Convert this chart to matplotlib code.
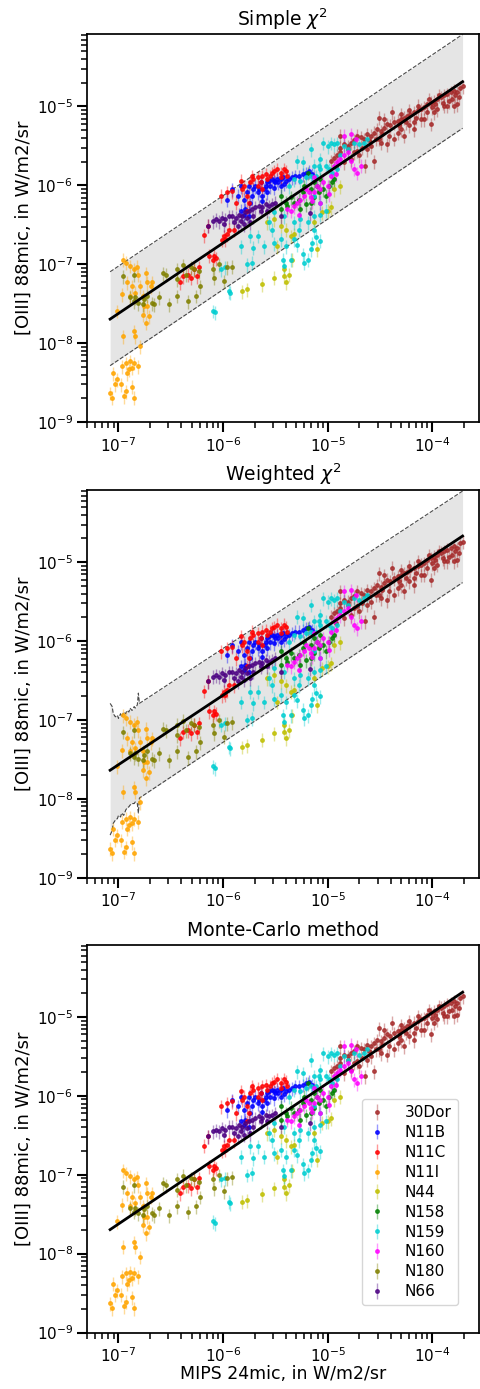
import numpy as np
import matplotlib
matplotlib.use("Agg")
import matplotlib.pyplot as plt

# log10 values (MIPS 24mic, [OIII] 88mic, W/m2/sr)
regions = ["30Dor", "N11B", "N11C", "N11I", "N44", "N158", "N159", "N160", "N180", "N66"]
colors = ["brown", "blue", "red", "orange", "y", "green", "darkturquoise",
          "magenta", "olive", "indigo"]

lx_30dor = [-4.88, -4.84, -4.81, -4.91, -4.88, -4.81, -4.78, -4.75, -4.72, -4.68,
            -4.65, -4.62, -4.59, -4.56, -4.53, -4.49, -4.46, -4.43, -4.40, -4.37,
            -4.33, -4.30, -4.27, -4.24, -4.21, -4.17, -4.14, -4.11, -4.08, -4.05,
            -4.01, -3.98, -3.95, -3.92, -3.89, -3.86, -3.82, -3.79, -3.76, -3.73,
            -3.71, -4.51, -4.46, -4.38, -4.30, -4.22, -4.14, -4.03, -3.94, -3.84,
            -3.76, -4.01, -4.27, -4.17, -4.37, -4.43, -4.56, -4.64, -4.70, -4.62,
            -4.49, -4.22, -4.11, -3.98, -3.89, -3.81, -4.78, -4.72, -4.84, -4.97,
            -4.92, -4.88, -4.51, -4.30, -4.08, -4.05, -3.95, -3.86, -3.79, -3.74,
            -4.17, -4.33, -4.41, -4.59, -4.67, -4.75, -4.94, -4.48, -4.32, -4.16,
            -4.00, -3.90, -3.78, -4.25, -4.54, -4.60, -3.97]
ly_30dor = [-5.37, -5.48, -5.54, -5.62, -5.58, -5.50, -5.46, -5.43, -5.37, -5.39,
            -5.41, -5.35, -5.37, -5.33, -5.29, -5.31, -5.27, -5.22, -5.24, -5.20,
            -5.18, -5.16, -5.14, -5.12, -5.10, -5.07, -5.05, -5.03, -5.01, -4.97,
            -4.95, -4.93, -4.91, -4.88, -4.86, -4.84, -4.82, -4.80, -4.82, -4.76,
            -4.74, -5.14, -5.16, -5.07, -5.10, -5.05, -4.99, -4.91, -4.86, -4.93,
            -4.97, -5.22, -5.37, -5.29, -5.41, -5.48, -5.69, -5.75, -5.62, -5.54,
            -5.46, -5.24, -5.16, -5.07, -4.99, -4.91, -5.67, -5.56, -5.71, -5.69,
            -5.77, -5.52, -5.41, -5.29, -5.16, -5.07, -5.03, -4.99, -4.99, -4.88,
            -5.20, -5.33, -5.37, -5.50, -5.52, -5.58, -5.65, -5.35, -5.24, -5.14,
            -5.01, -4.95, -4.86, -5.20, -5.41, -5.43, -4.97]

lx_n11b = [-5.96, -5.91, -5.86, -5.83, -5.80, -5.77, -5.75, -5.74, -5.72, -5.71,
           -5.69, -5.67, -5.66, -5.64, -5.63, -5.61, -5.59, -5.58, -5.56, -5.55,
           -5.53, -5.51, -5.50, -5.48, -5.47, -5.45, -5.43, -5.40, -5.37, -5.34,
           -5.31, -5.27, -5.24, -5.21, -5.18, -5.15, -5.63, -5.58, -5.51, -5.79,
           -5.83, -5.45, -5.42, -5.80, -5.75]
ly_n11b = [-6.18, -6.05, -6.13, -6.01, -6.18, -6.09, -6.01, -6.22, -6.13, -6.05,
           -6.01, -6.09, -6.05, -5.96, -6.13, -6.05, -6.01, -5.96, -5.94, -6.01,
           -5.92, -5.94, -5.96, -5.92, -5.96, -5.92, -5.90, -5.94, -5.92, -5.90,
           -5.88, -5.88, -5.86, -5.84, -5.82, -5.86, -6.20, -6.09, -6.03, -6.30,
           -6.32, -6.01, -5.98, -6.37, -6.39]

lx_n11c = [-6.41, -6.38, -6.34, -6.31, -6.28, -6.25, -6.23, -6.13, -6.10, -6.09,
           -6.07, -6.18, -6.01, -5.99, -5.96, -5.94, -6.14, -6.02, -5.96, -5.91,
           -5.88, -5.83, -5.80, -5.77, -5.74, -5.72, -5.71, -5.67, -5.64, -5.63,
           -5.59, -5.58, -5.55, -5.53, -5.51, -5.48, -5.45, -5.42, -5.40, -5.39,
           -5.45, -5.75, -5.77, -5.82, -5.90, -5.98, -5.67, -5.63]
ly_n11c = [-7.23, -7.15, -7.13, -7.17, -7.06, -7.15, -7.04, -6.89, -6.94, -6.89,
           -6.92, -6.63, -6.69, -6.64, -6.62, -6.56, -6.51, -6.13, -6.09, -6.07,
           -6.22, -5.94, -6.01, -6.13, -5.96, -5.88, -5.92, -5.90, -5.96, -5.88,
           -5.86, -5.92, -5.88, -5.84, -5.82, -5.79, -5.84, -5.79, -5.82, -5.88,
           -5.90, -6.22, -6.32, -6.05, -6.56, -6.68, -6.01, -6.05]

lx_n11i = [-6.96, -6.93, -6.89, -6.85, -6.82, -6.81, -6.92, -6.87, -6.79, -6.74,
           -6.73, -6.69, -6.68, -6.97, -6.89, -6.84, -6.77, -6.76, -6.73, -6.71,
           -6.77, -7.01, -6.74, -6.85, -6.84, -6.96, -6.79, -7.05, -7.01, -6.97,
           -6.93, -6.90, -6.89, -6.85, -6.87, -6.81, -6.92, -6.98, -7.03, -6.93,
           -6.87, -7.08, -7.06, -6.85, -6.95]
ly_n11i = [-6.94, -6.98, -7.02, -7.06, -7.03, -7.13, -7.23, -7.28, -7.28, -7.11,
           -7.23, -7.28, -7.23, -7.38, -7.40, -7.36, -7.40, -7.53, -7.53, -7.66,
           -7.64, -7.59, -7.74, -7.85, -7.91, -7.91, -8.04, -8.38, -8.46, -8.29,
           -8.25, -8.33, -8.23, -8.25, -8.31, -8.29, -8.38, -8.52, -8.52, -8.61,
           -8.55, -8.63, -8.69, -8.69, -8.67]

lx_n44 = [-5.82, -5.77, -5.63, -5.51, -5.42, -5.40, -5.37, -5.34, -5.42, -5.48,
          -5.35, -5.32, -5.13, -5.10, -5.05, -5.00, -4.97, -4.94, -4.88, -5.45,
          -5.51, -5.40, -5.58]
ly_n44 = [-7.34, -7.32, -7.25, -7.17, -7.15, -7.23, -7.13, -6.94, -7.06, -6.77,
          -6.64, -6.62, -6.47, -6.81, -6.34, -6.32, -6.28, -6.05, -6.01, -6.51,
          -6.43, -6.56, -6.47]

lx_n158 = [-5.45, -5.40, -5.35, -5.32, -5.27, -5.24, -5.23, -5.19, -5.16, -5.13,
           -5.10, -5.07, -5.04, -5.02, -4.99, -4.96, -4.94, -5.45, -5.39, -5.26,
           -5.21, -5.16, -5.13, -5.08]
ly_n158 = [-6.13, -6.22, -6.15, -6.22, -6.18, -6.09, -6.01, -5.84, -6.05, -5.96,
           -6.01, -5.92, -6.05, -6.13, -6.01, -5.96, -5.92, -6.30, -6.26, -6.30,
           -6.24, -6.22, -6.15, -6.09]

lx_n159 = [-6.10, -6.08, -5.94, -5.93, -6.02, -5.98, -5.83, -5.77, -5.72, -5.71,
           -5.74, -5.67, -5.61, -5.56, -5.53, -5.51, -5.45, -5.43, -5.42, -5.40,
           -5.35, -5.32, -5.29, -5.27, -5.24, -5.23, -5.19, -5.16, -5.15, -5.13,
           -5.11, -5.07, -5.32, -5.26, -5.19, -5.13, -5.07, -5.02, -5.29, -5.24,
           -5.16, -5.13, -5.08, -5.07, -5.04, -5.00, -4.97, -4.94, -4.91, -4.88,
           -4.84, -4.81, -4.75, -4.70, -4.65, -4.62, -5.13, -5.07, -4.99, -4.96,
           -4.91, -5.37, -5.32, -5.26, -5.21, -5.16, -5.11, -5.07, -5.02, -5.51,
           -5.42]
ly_n159 = [-7.59, -7.61, -7.34, -7.36, -7.06, -7.04, -6.77, -7.00, -6.98, -6.79,
           -6.64, -6.64, -6.77, -6.47, -6.56, -6.73, -6.68, -6.94, -7.02, -6.77,
           -6.94, -6.68, -6.75, -6.56, -6.87, -6.98, -6.94, -6.81, -6.73, -6.56,
           -6.66, -6.70, -6.47, -6.43, -6.47, -6.39, -6.37, -6.32, -5.69, -5.71,
           -5.54, -5.75, -5.75, -5.67, -5.46, -5.50, -5.46, -5.48, -5.46, -5.62,
           -5.50, -5.54, -5.46, -5.48, -5.46, -5.41, -6.13, -6.22, -5.79, -5.84,
           -5.79, -6.01, -5.92, -5.94, -5.90, -5.88, -5.88, -5.79, -5.75, -6.34,
           -6.39]

lx_n160 = [-5.39, -5.35, -5.32, -5.29, -5.26, -5.23, -5.21, -5.18, -5.16, -5.13,
           -5.10, -5.07, -5.04, -5.00, -4.97, -4.94, -4.91, -4.88, -4.84, -4.81,
           -4.78, -4.75, -4.72, -4.68, -4.84, -4.78, -4.73, -5.07, -5.15, -5.27,
           -5.13, -4.92, -4.99]
ly_n160 = [-6.30, -6.32, -6.26, -6.22, -6.18, -6.13, -6.05, -6.09, -6.15, -6.09,
           -6.01, -6.05, -5.96, -6.01, -5.88, -5.75, -5.71, -5.67, -5.62, -5.58,
           -5.69, -5.79, -5.84, -5.75, -5.37, -5.35, -5.41, -6.22, -6.20, -6.37,
           -5.90, -5.86, -6.11]

lx_n180 = [-6.96, -6.89, -6.85, -6.81, -6.77, -6.76, -6.73, -6.68, -6.66, -6.61,
           -6.57, -6.55, -6.52, -6.44, -6.44, -6.44, -6.38, -6.35, -6.34, -6.31,
           -6.28, -6.26, -6.23, -6.22, -6.10, -6.09, -6.04, -5.99, -5.96, -5.91,
           -6.84, -6.85]
ly_n180 = [-7.15, -7.42, -7.47, -7.49, -7.51, -7.44, -7.40, -7.49, -7.51, -7.42,
           -7.11, -7.13, -7.51, -7.06, -7.19, -7.40, -7.01, -7.13, -7.47, -7.04,
           -7.06, -7.40, -7.09, -7.28, -7.06, -7.17, -7.00, -7.21, -7.04, -7.03,
           -7.42, -7.13]

lx_n66 = [-6.14, -6.10, -6.07, -6.04, -6.01, -5.98, -5.94, -5.91, -5.88, -5.85,
          -5.82, -5.79, -5.75, -5.72, -5.69, -5.66, -5.63, -5.59, -5.56, -5.53,
          -5.50, -5.90, -5.83, -5.77, -5.74, -5.71, -5.64, -5.58, -5.45, -5.86,
          -5.80, -5.99, -5.17]
ly_n66 = [-6.51, -6.45, -6.43, -6.45, -6.41, -6.43, -6.39, -6.39, -6.41, -6.37,
          -6.39, -6.34, -6.32, -6.30, -6.28, -6.26, -6.28, -6.24, -6.26, -6.24,
          -6.22, -6.47, -6.45, -6.41, -6.47, -6.39, -6.32, -6.32, -6.39, -6.51,
          -6.49, -6.49, -6.35]

rel_err_y = 0.2

# fitted relations: log y = slope * log x + intercept, band = offsets in dex
fit_simple = (0.893, -1.373)
band_simple = (0.60, -0.59)
fit_weighted = (0.881, -1.400)
band_weighted = (0.57, -0.59)
fit_mc = (0.893, -1.373)

# weighted chi2 band edges at low x (noisy part)
wjag_lx = [-7.08, -7.06, -7.05, -7.03, -7.01, -7.00, -6.98, -6.97, -6.95, -6.93,
           -6.92, -6.90, -6.89, -6.87, -6.85, -6.84, -6.82, -6.81, -6.80]
wjag_hi = [-6.79, -6.83, -6.92, -6.96, -6.94, -6.98, -6.92, -6.96, -6.90, -6.92,
           -6.88, -6.90, -6.85, -6.88, -6.83, -6.85, -6.81, -6.66, -6.79]
wjag_lo = [-8.46, -8.40, -8.31, -8.27, -8.25, -8.21, -8.23, -8.18, -8.21, -8.14,
           -8.12, -8.10, -8.08, -8.06, -8.06, -8.04, -8.06, -8.18, -7.99]

data_lx = [lx_30dor, lx_n11b, lx_n11c, lx_n11i, lx_n44, lx_n158, lx_n159,
           lx_n160, lx_n180, lx_n66]
data_ly = [ly_30dor, ly_n11b, ly_n11c, ly_n11i, ly_n44, ly_n158, ly_n159,
           ly_n160, ly_n180, ly_n66]

all_lx = np.concatenate([np.array(a) for a in data_lx])
lx_min, lx_max = all_lx.min(), all_lx.max()

plt.rcParams["font.family"] = ["DejaVu Sans"]

fig = plt.figure(figsize=(4.81, 13.89), dpi=100)
W, H = 481, 1389
left, width, height = 87 / W, 392 / W, 388 / H
bottoms = [(H - 422) / H, (H - 877.7) / H, (H - 1332.5) / H]
axes = [fig.add_axes([left, b, width, height]) for b in bottoms]


def draw_points(ax):
    for name, c, lx, ly in zip(regions, colors, data_lx, data_ly):
        x = 10 ** np.array(lx)
        y = 10 ** np.array(ly)
        eb = ax.errorbar(x, y, yerr=rel_err_y * y, fmt="o", ms=2.5, color=c,
                         ecolor=c, elinewidth=1, alpha=0.8, label=name, zorder=3)
        for coll in eb.lines[2]:
            coll.set_alpha(0.4)


def draw_fit(ax, fit):
    lx = np.array([lx_min, lx_max])
    ax.plot(10 ** lx, 10 ** (fit[0] * lx + fit[1]), color="k", lw=2, zorder=4)


def draw_band(ax, lx, lo, hi):
    ax.fill_between(10 ** lx, 10 ** lo, 10 ** hi, color="gray", alpha=0.2, lw=0, zorder=1)
    ax.plot(10 ** lx, 10 ** hi, "k--", lw=0.8, alpha=0.7, zorder=2)
    ax.plot(10 ** lx, 10 ** lo, "k--", lw=0.8, alpha=0.7, zorder=2)


# panel 1: simple chi2
ax = axes[0]
lx = np.array([lx_min, lx_max])
mid = fit_simple[0] * lx + fit_simple[1]
draw_band(ax, lx, mid + band_simple[1], mid + band_simple[0])
draw_points(ax)
draw_fit(ax, fit_simple)
ax.set_title(r"Simple $\chi^2$", fontsize=13.5)

# panel 2: weighted chi2
ax = axes[1]
lx_s = np.array([wjag_lx[-1], lx_max])
mid = fit_weighted[0] * lx_s + fit_weighted[1]
lx = np.concatenate([wjag_lx, lx_s[1:]])
hi = np.concatenate([wjag_hi, (mid + band_weighted[0])[1:]])
lo = np.concatenate([wjag_lo, (mid + band_weighted[1])[1:]])
draw_band(ax, lx, lo, hi)
draw_points(ax)
draw_fit(ax, fit_weighted)
ax.set_title(r"Weighted $\chi^2$", fontsize=13.5)

# panel 3: monte-carlo
ax = axes[2]
draw_points(ax)
draw_fit(ax, fit_mc)
ax.set_title("Monte-Carlo method", fontsize=13.5)
ax.set_xlabel("MIPS 24mic, in W/m2/sr", fontsize=12.5, labelpad=0)
ax.legend(loc="lower right", bbox_to_anchor=(0.946, 0.07), borderaxespad=0,
          fontsize=11, labelspacing=0.32, handlelength=1.2, handletextpad=1.2,
          borderpad=0.4)

for ax in axes:
    ax.set_xscale("log")
    ax.set_yscale("log")
    ax.set_xlim(5e-8, 2.8e-4)
    ax.set_ylim(1e-9, 8.3e-5)
    ax.set_ylabel("[OIII] 88mic, in W/m2/sr", fontsize=13, labelpad=3)
    ax.tick_params(which="major", length=7, width=1.5, labelsize=11, pad=3)
    ax.tick_params(which="minor", length=4.5, width=1.1)
    for s in ax.spines.values():
        s.set_linewidth(1.25)

fig.savefig("out.png", dpi=100)
